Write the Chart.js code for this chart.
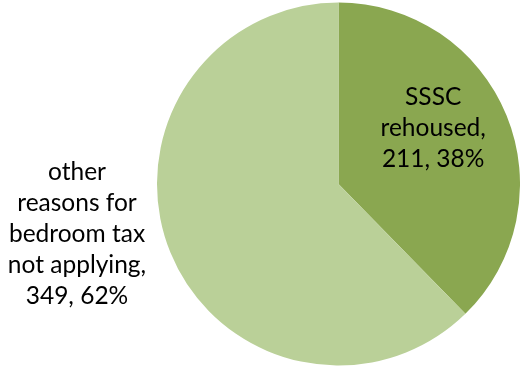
<!DOCTYPE html>
<html>
<head>
<meta charset="utf-8">
<script src="https://cdn.jsdelivr.net/npm/chart.js@4.4.1/dist/chart.umd.min.js"></script>
<style>
  html, body { margin: 0; padding: 0; background: #fff; }
  #wrap { position: relative; width: 520px; height: 367px; }
</style>
</head>
<body>
<div id="wrap"><canvas id="pieChart"></canvas></div>
<script>
// data
const categories = ["SSSC rehoused", "other reasons for bedroom tax not applying"];
const values = [211, 349];
const percents = ["38%", "62%"];
const labelLines = [
    ["SSSC", "rehoused,", "211, 38%"],
    ["other", "reasons for", "bedroom tax", "not applying,", "349, 62%"]
];
const colors = ["#8aa750", "#bad098"];

const FONT = "Lato, 'Open Sans', sans-serif";

// labels plugin: first slice inside, second slice to the left of the pie
const pieLabels = {
    id: "pieLabels",
    afterDatasetsDraw(chart) {
        const ctx = chart.ctx;
        const arcs = chart.getDatasetMeta(0).data;
        ctx.save();
        ctx.fillStyle = "#000";
        ctx.font = "24.5px " + FONT;
        ctx.textAlign = "center";
        ctx.textBaseline = "middle";
        const lh = 31;

        arcs.forEach((arc, i) => {
            const p = arc.getProps(["x", "y", "startAngle", "endAngle", "outerRadius"], true);
            let cx, cy;
            if (i === 0) {
                const mid = (p.startAngle + p.endAngle) / 2 - 0.13;
                cx = p.x + Math.cos(mid) * p.outerRadius * 0.6;
                cy = p.y + Math.sin(mid) * p.outerRadius * 0.6 - 2;
            } else {
                cx = chart.chartArea.left - 80;
                cy = p.y + 50;
            }
            const lines = labelLines[i];
            const top = cy - (lines.length - 1) * lh / 2;
            lines.forEach((t, k) => ctx.fillText(t, cx, top + k * lh));
        });
        ctx.restore();
    }
};

new Chart(document.getElementById("pieChart"), {
    type: "pie",
    data: {
        labels: categories,
        datasets: [{
            data: values,
            backgroundColor: colors,
            borderWidth: 0
        }]
    },
    options: {
        responsive: true,
        maintainAspectRatio: false,
        animation: false,
        layout: { padding: { left: 157, right: 0, top: 2, bottom: 1 } },
        plugins: {
            legend: { display: false },
            tooltip: { enabled: false }
        }
    },
    plugins: [pieLabels]
});
</script>
</body>
</html>
